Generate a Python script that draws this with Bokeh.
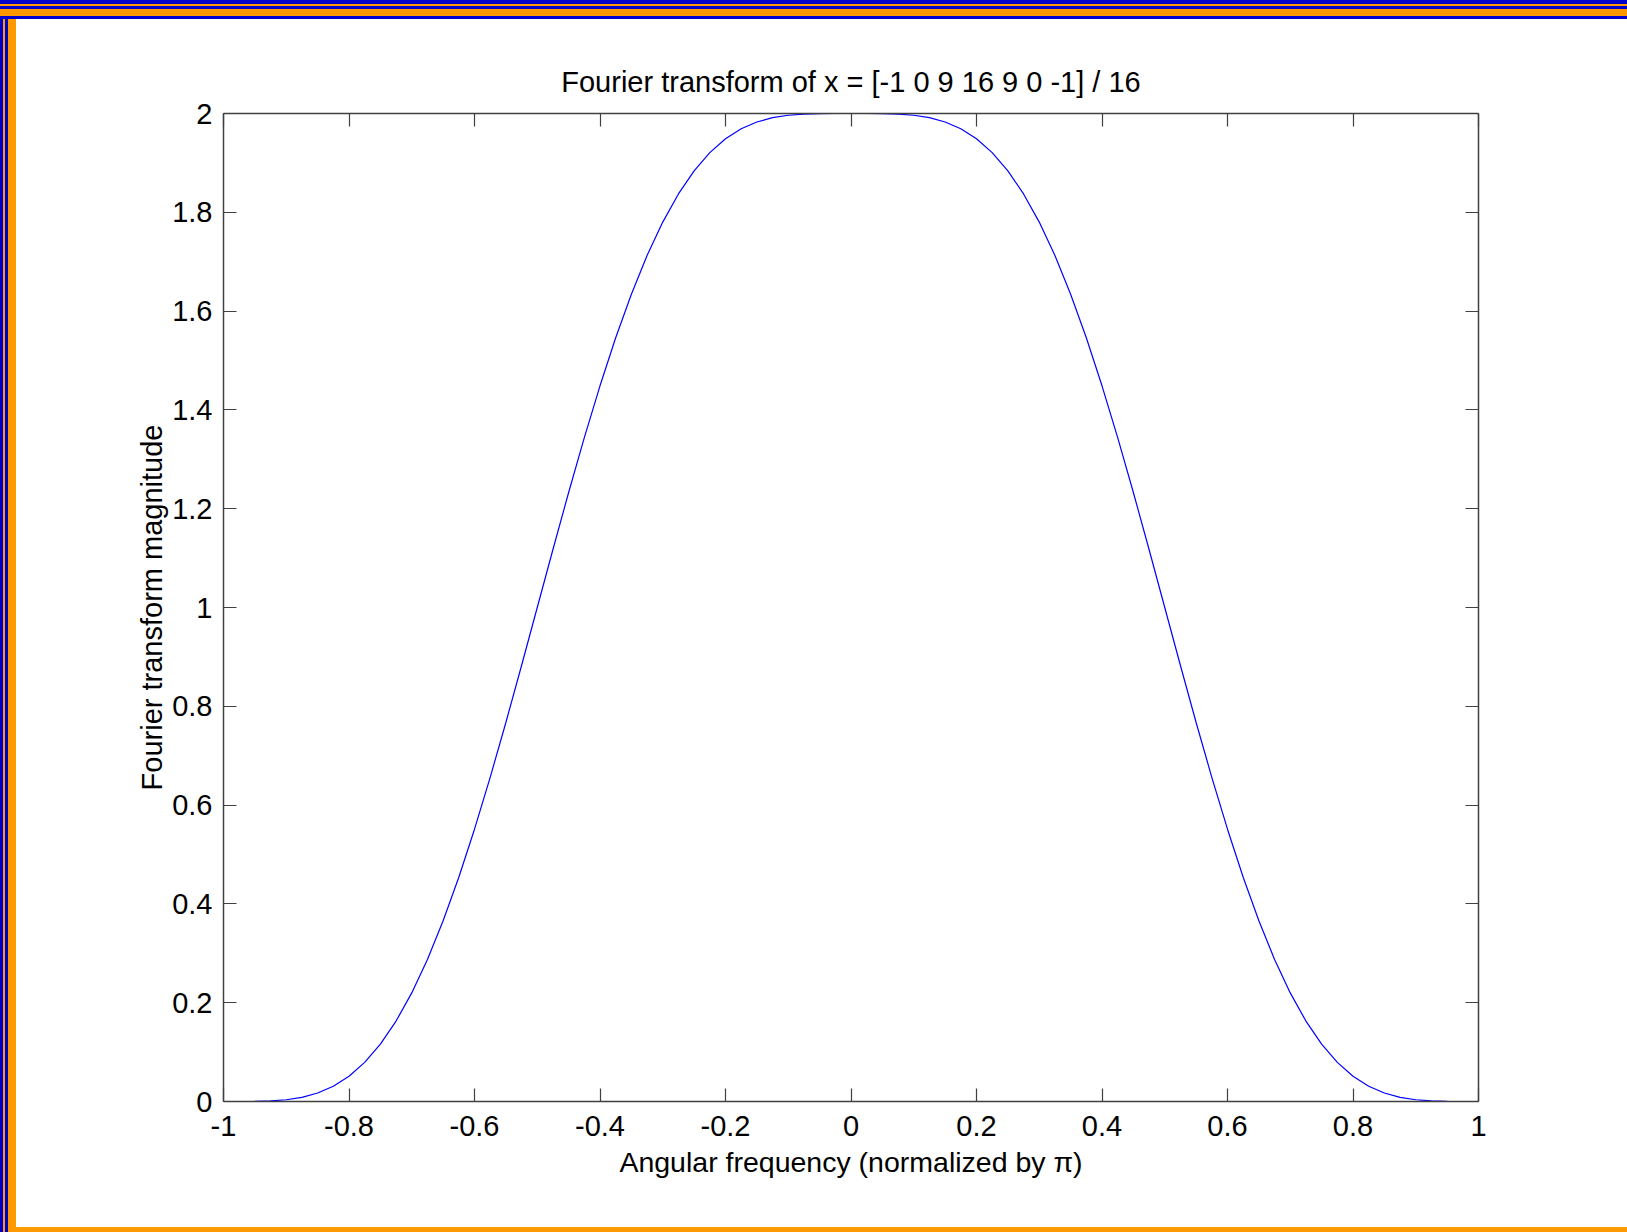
from bokeh.plotting import figure
from bokeh.models import LinearAxis, FixedTicker, Range1d
from bokeh.embed import file_html
from bokeh.resources import INLINE

# ---- data ----
freq = [-1.0, -0.975, -0.95, -0.925, -0.9, -0.875, -0.85, -0.825, -0.8, -0.775,
        -0.75, -0.725, -0.7, -0.675, -0.65, -0.625, -0.6, -0.575, -0.55, -0.525,
        -0.5, -0.475, -0.45, -0.425, -0.4, -0.375, -0.35, -0.325, -0.3, -0.275,
        -0.25, -0.225, -0.2, -0.175, -0.15, -0.125, -0.1, -0.075, -0.05, -0.025,
        0.0, 0.025, 0.05, 0.075, 0.1, 0.125, 0.15, 0.175, 0.2, 0.225,
        0.25, 0.275, 0.3, 0.325, 0.35, 0.375, 0.4, 0.425, 0.45, 0.475,
        0.5, 0.525, 0.55, 0.575, 0.6, 0.625, 0.65, 0.675, 0.7, 0.725,
        0.75, 0.775, 0.8, 0.825, 0.85, 0.875, 0.9, 0.925, 0.95, 0.975, 1.0]
magnitude = [0.00000, 0.00001, 0.00023, 0.00113, 0.00353, 0.00847, 0.01717, 0.03097, 0.05123, 0.07923,
             0.11612, 0.16279, 0.21986, 0.28757, 0.36580, 0.45400, 0.55123, 0.65619, 0.76726, 0.88255,
             1.00000, 1.11745, 1.23274, 1.34381, 1.44877, 1.54600, 1.63420, 1.71243, 1.78014, 1.83721,
             1.88388, 1.92077, 1.94877, 1.96903, 1.98283, 1.99153, 1.99647, 1.99887, 1.99977, 1.99999,
             2.00000, 1.99999, 1.99977, 1.99887, 1.99647, 1.99153, 1.98283, 1.96903, 1.94877, 1.92077,
             1.88388, 1.83721, 1.78014, 1.71243, 1.63420, 1.54600, 1.44877, 1.34381, 1.23274, 1.11745,
             1.00000, 0.88255, 0.76726, 0.65619, 0.55123, 0.45400, 0.36580, 0.28757, 0.21986, 0.16279,
             0.11612, 0.07923, 0.05123, 0.03097, 0.01717, 0.00847, 0.00353, 0.00113, 0.00023, 0.00001, 0.00000]

x_ticks = [-1, -0.8, -0.6, -0.4, -0.2, 0, 0.2, 0.4, 0.6, 0.8, 1]
x_tick_labels = ["-1", "-0.8", "-0.6", "-0.4", "-0.2", "0", "0.2", "0.4", "0.6", "0.8", "1"]
y_ticks = [0, 0.2, 0.4, 0.6, 0.8, 1, 1.2, 1.4, 1.6, 1.8, 2]
y_tick_labels = ["0", "0.2", "0.4", "0.6", "0.8", "1", "1.2", "1.4", "1.6", "1.8", "2"]

title_text = "Fourier transform of x = [-1 0 9 16 9 0 -1] / 16"
x_label = "Angular frequency (normalized by \u03c0)"
y_label = "Fourier transform magnitude"

FONT = "Liberation Sans"
W, H = 1627, 1232
BLUE_BORDER = "#0000cc"
ORANGE_BORDER = "#ff9900"
AXIS_COLOR = "#404040"

p = figure(width=W, height=H, output_backend="svg", toolbar_location=None,
           x_range=Range1d(-1, 1), y_range=Range1d(0, 2),
           min_border_left=223, min_border_right=149, min_border_top=113, min_border_bottom=131,
           frame_width=1255, frame_height=988,
           x_axis_type=None, y_axis_type=None)
p.background_fill_color = "white"
p.border_fill_color = None
p.outline_line_color = None
p.xgrid.visible = False
p.ygrid.visible = False

# decorative slide border (CSS layers on the figure's host element)
B, O = BLUE_BORDER, ORANGE_BORDER
top_stripes = (f"linear-gradient(to bottom, {B} 0px, {B} 4px, {O} 4px, {O} 6px, {B} 6px, {B} 9px, "
               f"{O} 9px, {O} 16px, {B} 16px, {B} 19px, transparent 19px)")
left_stripes = (f"linear-gradient(to right, {B} 0px, {B} 3px, {O} 3px, {O} 5px, {B} 5px, {B} 8px, "
                f"{O} 8px, {O} 16px, transparent 16px)")
bottom_stripe = f"linear-gradient(to top, {O} 0px, {O} 5px, transparent 5px)"
p.styles = {
    "background-color": "white",
    "background-image": f"{top_stripes}, {left_stripes}, {bottom_stripe}",
    "background-repeat": "no-repeat",
}

p.line(freq, magnitude, line_color="#0000ff", line_width=1.2)


def style_axis(ax, ticks, labels, show_labels):
    ax.ticker = FixedTicker(ticks=ticks)
    if show_labels:
        ax.major_label_overrides = {t: s for t, s in zip(ticks, labels)}
    else:
        ax.major_label_overrides = {t: "" for t in ticks}
    ax.major_tick_in = 13
    ax.major_tick_out = 0
    ax.minor_tick_line_color = None
    ax.axis_line_color = AXIS_COLOR
    ax.axis_line_width = 1.5
    ax.major_tick_line_color = AXIS_COLOR
    ax.major_tick_line_width = 1.2
    ax.major_label_text_font = FONT
    ax.major_label_text_font_size = "29px"
    ax.major_label_text_color = "black"
    ax.axis_label_text_font = FONT
    ax.axis_label_text_font_size = "29px"
    ax.axis_label_text_font_style = "normal"
    ax.axis_label_text_color = "black"


xb = LinearAxis(axis_label=x_label)
style_axis(xb, x_ticks, x_tick_labels, True)
xb.major_label_standoff = 14
xb.axis_label_standoff = 7
xb.axis_label_text_font_size = "28.5px"
p.add_layout(xb, "below")

yl = LinearAxis(axis_label=y_label)
style_axis(yl, y_ticks, y_tick_labels, True)
yl.major_label_standoff = 11
yl.axis_label_standoff = 1
p.add_layout(yl, "left")

xa = LinearAxis()
style_axis(xa, x_ticks, x_tick_labels, False)
xa.major_label_standoff = 0
p.add_layout(xa, "above")

yr = LinearAxis()
style_axis(yr, y_ticks, y_tick_labels, False)
yr.major_label_standoff = 0
p.add_layout(yr, "right")

p.title.text = title_text
p.title.text_font = FONT
p.title.text_font_size = "29px"
p.title.text_font_style = "normal"
p.title.text_color = "black"
p.title.align = "center"
p.title.standoff = 32

open("out.html", "w").write(file_html(p, INLINE))
